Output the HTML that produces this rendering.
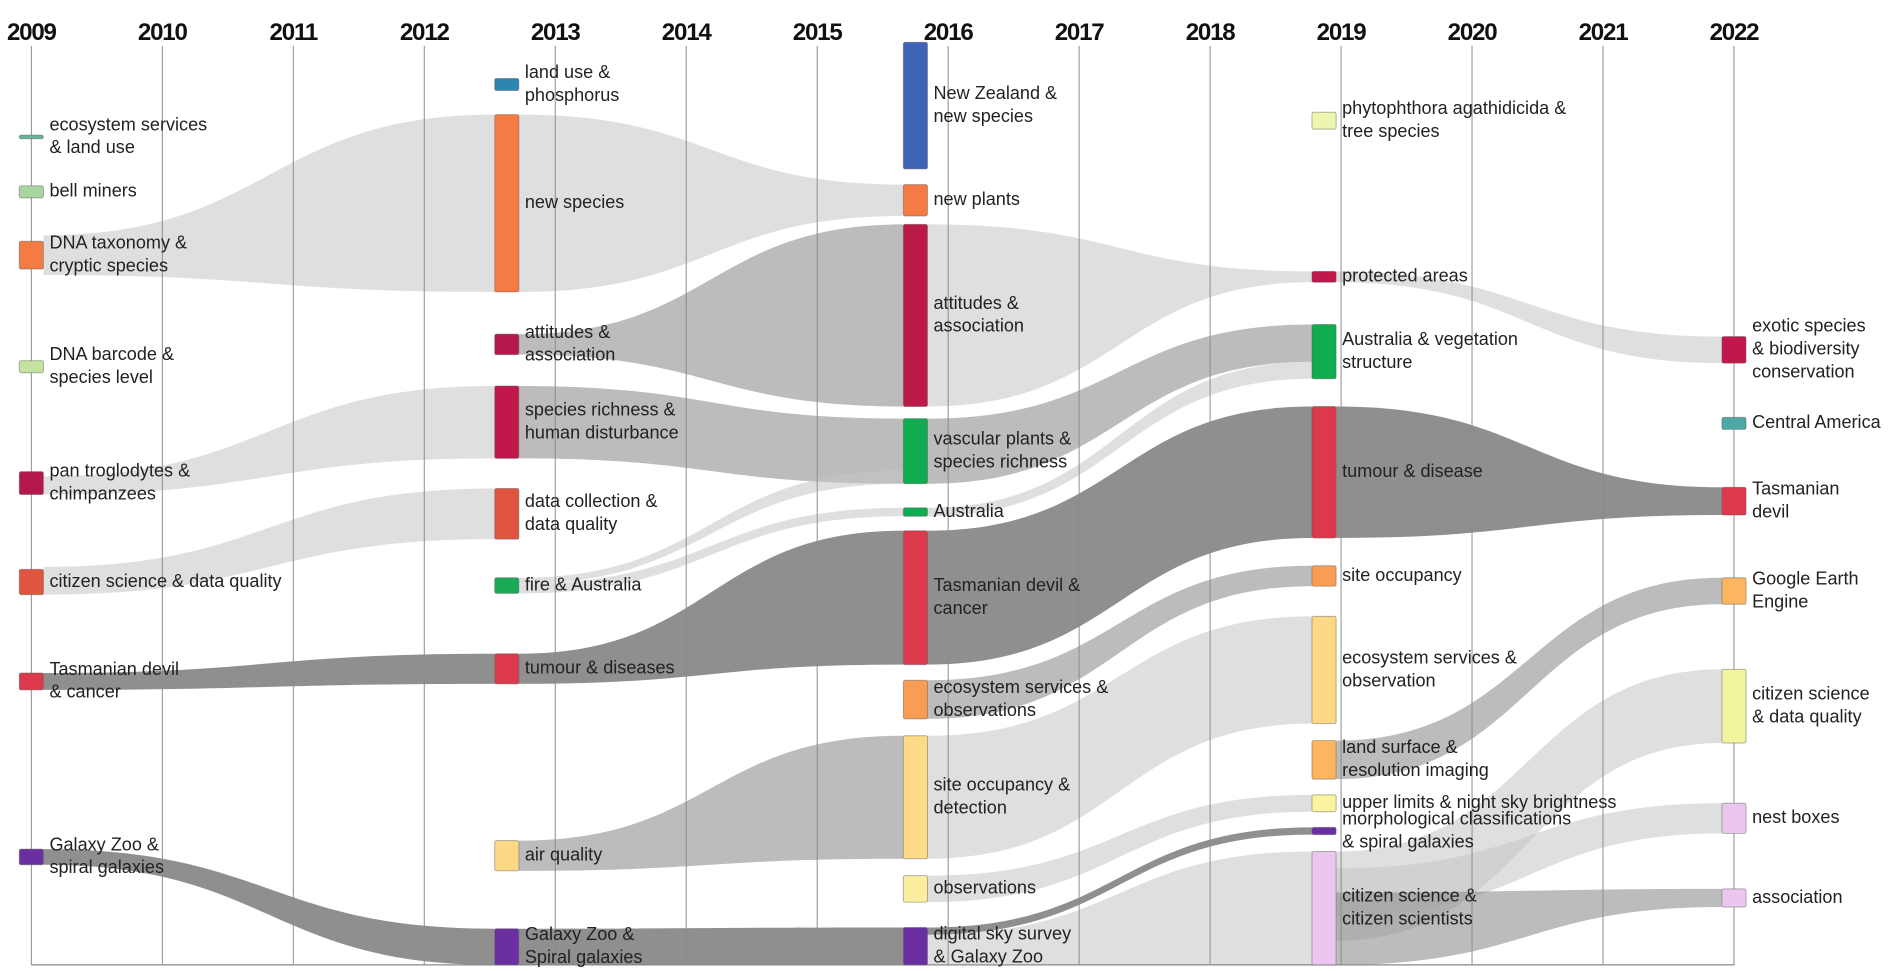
<!DOCTYPE html>
<html><head><meta charset="utf-8"><style>
html,body{margin:0;padding:0;background:#fff;}
svg{display:block;font-family:"Liberation Sans",Arial,sans-serif;}
</style></head><body>
<svg id="chart" width="1891" height="971" viewBox="0 0 1568 805" xmlns="http://www.w3.org/2000/svg">
<g id="flows"></g>
<g id="grid"></g>
<g id="nodes"></g>
</svg>
<script>
const years = ["2009","2010","2011","2012","2013","2014","2015","2016","2017","2018","2019","2020","2021","2022"];
const columnYears = [2009, 2012.63, 2015.75, 2018.87, 2022];
const nodeCols = [0,0,0,0,0,0,0,0, 1,1,1,1,1,1,1,1,1, 2,2,2,2,2,2,2,2,2,2, 3,3,3,3,3,3,3,3,3,3, 4,4,4,4,4,4,4];
const nodeTops = [112,154,200,299,391,472,558,704, 65,95,277,320,405,479,542,697,770, 35,153,186,347,421,440,564,610,726,769, 93,225,269,337,469,511,614,659,686,706, 279,346,404,479,555,666,737];
const nodeBottoms = [115,164,223,309,410,493,572,717, 75,242,294,380,447,492,567,722,800, 140,179,337,401,428,551,596,712,748,800, 107,234,314,446,486,600,646,673,692,800, 301,356,427,501,616,691,752];
const nodeColors = ["#6ab29a","#a8d5a0","#f47c44","#c5e3a0","#b5184a","#e0553f","#dc3a4c","#6a2fa0",
 "#2d86b0","#f47c44","#b5184a","#c0184a","#e0553f","#1aaa55","#dc3a4c","#fdd885","#6a2fa0",
 "#3f63b5","#f47c44","#bb1a48","#0fad4f","#0fad4f","#dc3a4c","#f99d55","#fddb87","#fbef9f","#6a2fa0",
 "#eef5b0","#c0184a","#0fad4f","#dc3a4c","#f99d55","#fdd885","#fdb55f","#fbf3a0","#6a2fa0","#ebc7ef",
 "#c0184a","#4ba8a4","#dc3a4c","#fdb55f","#f0f59e","#ebc7ef","#ebc7ef"];
const nodeLabels = [
 ["ecosystem services","& land use"],["bell miners"],["DNA taxonomy &","cryptic species"],["DNA barcode &","species level"],["pan troglodytes &","chimpanzees"],["citizen science & data quality"],["Tasmanian devil","& cancer"],["Galaxy Zoo &","spiral galaxies"],
 ["land use &","phosphorus"],["new species"],["attitudes &","association"],["species richness &","human disturbance"],["data collection &","data quality"],["fire & Australia"],["tumour & diseases"],["air quality"],["Galaxy Zoo &","Spiral galaxies"],
 ["New Zealand &","new species"],["new plants"],["attitudes &","association"],["vascular plants &","species richness"],["Australia"],["Tasmanian devil &","cancer"],["ecosystem services &","observations"],["site occupancy &","detection"],["observations"],["digital sky survey","& Galaxy Zoo"],
 ["phytophthora agathidicida &","tree species"],["protected areas"],["Australia & vegetation","structure"],["tumour & disease"],["site occupancy"],["ecosystem services &","observation"],["land surface &","resolution imaging"],["upper limits  & night sky brightness"],["morphological classifications","& spiral galaxies"],["citizen science &","citizen scientists"],
 ["exotic species","& biodiversity","conservation"],["Central America"],["Tasmanian","devil"],["Google Earth","Engine"],["citizen science","& data quality"],["nest boxes"],["association"]];
const flowSrc = [2, 9, 4, 5, 19, 11, 10, 13, 13, 20, 21, 14, 6, 22, 30, 23, 24, 15, 25, 7, 16, 26, 26, 28, 33, 36, 36, 36];
const flowTgt = [9, 18, 11, 12, 28, 20, 19, 20, 21, 29, 29, 22, 14, 30, 39, 31, 32, 24, 34, 16, 26, 35, 36, 37, 40, 41, 42, 43];
const flowSrcTop = [195, 95, 395, 470, 186, 320, 277, 479, 484, 347, 421, 542, 558, 440, 337, 564, 610, 697, 726, 704, 770, 769, 775, 225, 614, 706, 720, 740];
const flowSrcBot = [228, 242, 410, 493, 337, 380, 294, 484, 492, 401, 428, 567, 572, 551, 446, 596, 712, 722, 748, 717, 800, 775, 800, 234, 646, 780, 760, 800];
const flowTgtTop = [95, 153, 320, 405, 225, 347, 186, 390, 421, 269, 300, 440, 542, 337, 404, 469, 511, 610, 659, 770, 769, 686, 706, 279, 479, 555, 666, 737];
const flowTgtBot = [242, 179, 380, 447, 234, 401, 337, 401, 428, 300, 314, 551, 567, 446, 427, 486, 600, 712, 673, 800, 800, 692, 800, 301, 501, 616, 691, 752];
const flowShade = ["l","l","l","l","l","m","m","l","l","m","l","d","d","d","d","m","l","m","l","d","d","d","l","l","m","l","l","m"];

const NS = "http://www.w3.org/2000/svg";
const X0 = 26, DX = 108.6, NW = 20;
function xScale(yr){ return X0 + (yr - 2009) * DX; }
function colLeft(c){ return xScale(columnYears[c]) - NW/2; }
function mk(tag, attrs, parent){ const e = document.createElementNS(NS, tag); for (const k in attrs) e.setAttribute(k, attrs[k]); parent.appendChild(e); return e; }

const gF = document.getElementById('flows'), gG = document.getElementById('grid'), gN = document.getElementById('nodes');
const shadeFill = {l:"#c4c4c4", m:"#8f8f8f", d:"#6a6a6a"};
const shadeOp = {l:0.55, m:0.6, d:0.75};

flowSrc.forEach((s, i) => {
  const t = flowTgt[i];
  const x0 = colLeft(nodeCols[s]) + NW, x1 = colLeft(nodeCols[t]);
  const xm = (x0 + x1) / 2;
  const d = `M${x0},${flowSrcTop[i]} C${xm},${flowSrcTop[i]} ${xm},${flowTgtTop[i]} ${x1},${flowTgtTop[i]} L${x1},${flowTgtBot[i]} C${xm},${flowTgtBot[i]} ${xm},${flowSrcBot[i]} ${x0},${flowSrcBot[i]} Z`;
  const p = mk('path', {d: d, fill: shadeFill[flowShade[i]], 'fill-opacity': shadeOp[flowShade[i]]}, gF);
  
  
});

years.forEach((y, i) => {
  const x = xScale(2009 + i);
  const ln = mk('line', {x1: x, x2: x, y1: 38, y2: 800, stroke: "#8a8a8a", 'stroke-width': 0.8}, gG);
  
  
  const tx = mk('text', {x: x, y: 33, 'text-anchor': 'middle', 'font-size': 20, 'font-weight': 'bold', fill: '#111', 'letter-spacing': -1}, gG);
  tx.textContent = y;
  
  
});
const ax = mk('line', {x1: 26, x2: 1438, y1: 800, y2: 800, stroke: "#888", 'stroke-width': 1}, gG);



nodeCols.forEach((c, i) => {
  const x = colLeft(c), y0 = nodeTops[i], y1 = nodeBottoms[i];
  const r = mk('rect', {x: x, y: y0, width: NW, height: Math.max(2, y1 - y0), rx: 1.5, fill: nodeColors[i], stroke: "#555", 'stroke-opacity': 0.45, 'stroke-width': 0.8}, gN);
  
  
  const lines = nodeLabels[i];
  const cy = (y0 + y1) / 2;
  const t = mk('text', {x: x + NW + 5, y: cy - (lines.length - 1) * 9.5 + 4, 'font-size': 15, fill: '#222'}, gN);
  
  
  lines.forEach((l, k) => {
    const ts = mk('tspan', {x: x + NW + 5, dy: k === 0 ? 0 : 19}, t);
    ts.textContent = l;
  });
});
</script>
</body></html>
